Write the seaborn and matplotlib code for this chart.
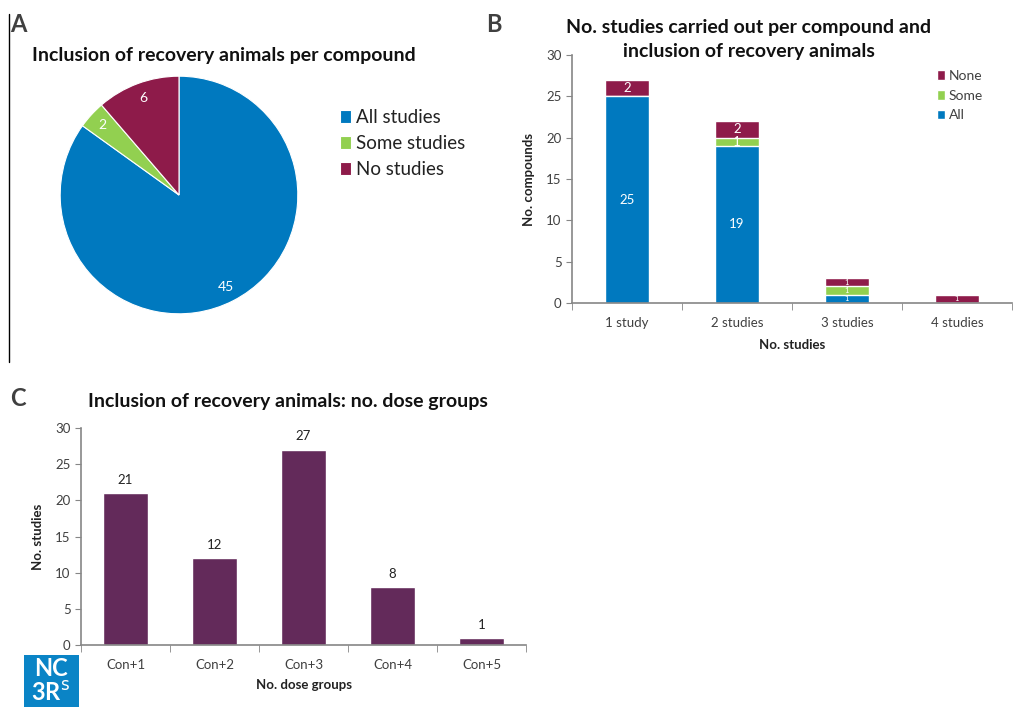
# Recreacion de la figura de tres paneles (A, B, C)
import numpy as np
import pandas as pd
import matplotlib
matplotlib.use("Agg")
import matplotlib.pyplot as plt
import seaborn as sns
from matplotlib.patches import Rectangle
from matplotlib.lines import Line2D

# Datos del panel A
pie_labels = ["All studies", "Some studies", "No studies"]
pie_values = [45, 2, 6]

# Datos del panel B
b_categories = ["1 study", "2 studies", "3 studies", "4 studies"]
b_all = [25, 19, 1, 0]
b_some = [0, 1, 1, 0]
b_none = [2, 2, 1, 1]

# Datos del panel C
c_categories = ["Con+1", "Con+2", "Con+3", "Con+4", "Con+5"]
c_values = [21, 12, 27, 8, 1]

BLUE = "#0079bf"
GREEN = "#92d050"
MAROON = "#8e1b4a"
PURPLE = "#632a5a"
GREY_TXT = "#404040"
SPINE = "#868686"

sns.set_style("white")
plt.rcParams["font.family"] = ["Lato", "DejaVu Sans"]

W, H = 1019, 707
fig = plt.figure(figsize=(W / 100, H / 100), dpi=100)


def fx(px):
    return px / W


def fy(py):
    return 1 - py / H


def estilo_excel(ax, n):
    for s in ["top", "right"]:
        ax.spines[s].set_visible(False)
    for s in ["left", "bottom"]:
        ax.spines[s].set_color(SPINE)
        ax.spines[s].set_linewidth(1.2)
    ax.set_xlim(-0.5, n - 0.5)
    ax.set_ylim(0, 30)
    ax.set_yticks(range(0, 31, 5))
    ax.tick_params(axis="y", direction="out", length=4, color=SPINE,
                   labelsize=9.5, labelcolor=GREY_TXT, left=True)
    ax.tick_params(axis="x", which="major", length=0, labelsize=9.5,
                   labelcolor=GREY_TXT, pad=10)
    ax.set_xticks(np.arange(-0.5, n, 1.0), minor=True)
    ax.tick_params(axis="x", which="minor", direction="out", length=5,
                   color=SPINE, bottom=True)
    ax.grid(False)


# ---------------- Panel A ----------------
axA = fig.add_axes([fx(59), fy(315), fx(240), 240 / H])
wedges, _, autotexts = axA.pie(
    pie_values, colors=[BLUE, GREEN, MAROON], startangle=90, counterclock=False,
    autopct=lambda p: f"{round(p * sum(pie_values) / 100):d}", pctdistance=0.87,
    wedgeprops=dict(linewidth=0.8, edgecolor="white"),
    textprops=dict(color="white", fontsize=10))
axA.set_aspect("equal")
axA.set_xlim(-1.01, 1.01)
axA.set_ylim(-1.01, 1.01)
axA.legend(wedges, pie_labels, loc="upper left", bbox_to_anchor=(1.1, 0.93),
           frameon=False, fontsize=13.5, handlelength=0.6, handleheight=0.7,
           handletextpad=0.25, labelspacing=0.5, labelcolor="#222222")
fig.text(fx(32), fy(55), "Inclusion of recovery animals per compound",
         fontsize=14, fontweight="bold", va="center", ha="left", color="#111111")
fig.text(fx(10), fy(25), "A", fontsize=17, fontweight="bold", color=GREY_TXT,
         va="center", ha="left")
fig.add_artist(Line2D([fx(9), fx(9)], [fy(14), fy(362)], color="black", lw=1))

# ---------------- Panel B ----------------
axB = fig.add_axes([fx(572), fy(303), (1012 - 572) / W, 248 / H])
df_b = pd.DataFrame({"cat": b_categories, "all": b_all, "some": b_some, "none": b_none})
df_b["tot"] = df_b["all"] + df_b["some"] + df_b["none"]
df_b["all_some"] = df_b["all"] + df_b["some"]
sns.barplot(data=df_b, x="cat", y="tot", color=MAROON, saturation=1, width=0.4,
            ax=axB, label="None")
sns.barplot(data=df_b, x="cat", y="all_some", color=GREEN, saturation=1, width=0.4,
            ax=axB, label="Some")
sns.barplot(data=df_b, x="cat", y="all", color=BLUE, saturation=1, width=0.4,
            ax=axB, label="All")
for i, row in df_b.iterrows():
    base = 0
    for col in ["all", "some", "none"]:
        v = row[col]
        if v > 0:
            fs = 9.5 if row["tot"] > 3 else 5.5
            axB.text(i, base + v / 2, str(v), ha="center", va="center",
                     color="white", fontsize=fs)
        base += v
estilo_excel(axB, len(b_categories))
axB.set_xlabel("No. studies", fontsize=9.5, fontweight="bold", color="#222222",
               labelpad=7)
axB.set_ylabel("No. compounds", fontsize=9.5, fontweight="bold", color="#222222",
               labelpad=8)
h, l = axB.get_legend_handles_labels()
axB.legend(h, l, loc="upper left", bbox_to_anchor=(0.8, 0.99), frameon=False,
           fontsize=10, handlelength=0.6, handleheight=0.7, handletextpad=0.3,
           labelspacing=0.55, labelcolor=GREY_TXT)
fig.text(fx(749), fy(40), "No. studies carried out per compound and\ninclusion of recovery animals",
         fontsize=14, fontweight="bold", ha="center", va="center",
         color="#111111", linespacing=1.5)
fig.text(fx(486), fy(25), "B", fontsize=17, fontweight="bold", color=GREY_TXT,
         va="center", ha="left")

# ---------------- Panel C ----------------
axC = fig.add_axes([fx(81), fy(645), 445 / W, 217 / H])
df_c = pd.DataFrame({"grupo": c_categories, "n": c_values})
sns.barplot(data=df_c, x="grupo", y="n", color=PURPLE, saturation=1, width=0.5, ax=axC)
for i, v in enumerate(c_values):
    axC.text(i, v + 1.0, str(v), ha="center", va="bottom", fontsize=9.5,
             color="#222222")
estilo_excel(axC, len(c_categories))
axC.set_xlabel("No. dose groups", fontsize=9.5, fontweight="bold", color="#222222",
               labelpad=6)
axC.set_ylabel("No. studies", fontsize=9.5, fontweight="bold", color="#222222",
               labelpad=8)
fig.text(fx(88), fy(402), "Inclusion of recovery animals: no. dose groups",
         fontsize=14, fontweight="bold", ha="left", va="center", color="#111111")
fig.text(fx(10), fy(398), "C", fontsize=17, fontweight="bold", color=GREY_TXT,
         va="center", ha="left")

# Logo NC3Rs
fig.add_artist(Rectangle((fx(24), 0), fx(79) - fx(24), 52 / H,
                         transform=fig.transFigure, color="#0a84c6", lw=0))
fig.text(fx(51), fy(669), "NC", fontsize=17, fontweight="bold", color="white",
         ha="center", va="center")
fig.text(fx(51), fy(693), "3R$^{\\mathrm{s}}$", fontsize=17, fontweight="bold",
         color="white", ha="center", va="center")

fig.savefig("out.png", dpi=100)
